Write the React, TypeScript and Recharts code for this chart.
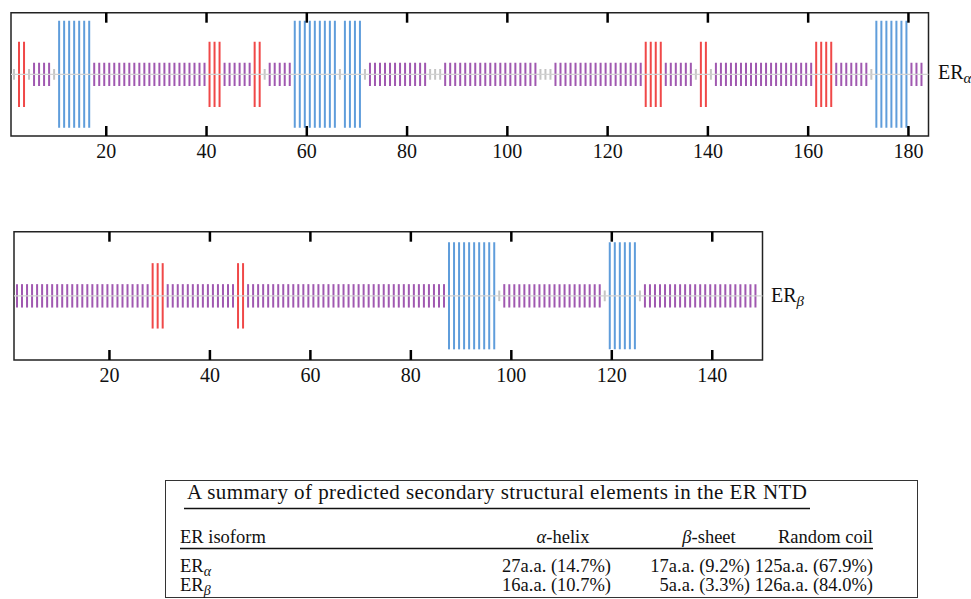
import React from 'react';
import { ComposedChart, Bar, Cell, XAxis, YAxis, ReferenceLine, ReferenceArea } from 'recharts';

// Secondary-structure codes: H = α-helix, E = β-sheet, C = random coil, T = other
type Code = 'H' | 'E' | 'C' | 'T';

// Run-length sequences read residue by residue from the picture
const ER_ALPHA_RUNS: [Code, number][] = [
  ['T', 1], ['E', 2], ['T', 1], ['C', 4], ['T', 1], ['H', 7], ['C', 23], ['E', 3], ['C', 6],
  ['E', 2], ['T', 1], ['C', 5], ['H', 9], ['T', 1], ['H', 4], ['T', 1], ['C', 12], ['T', 3],
  ['C', 19], ['T', 3], ['C', 18], ['E', 4], ['C', 6], ['T', 1], ['E', 2], ['T', 1], ['C', 20],
  ['E', 4], ['C', 7], ['T', 1], ['H', 7], ['C', 3],
];
const ER_BETA_RUNS: [Code, number][] = [
  ['C', 27], ['E', 3], ['C', 14], ['E', 2], ['C', 40], ['H', 10], ['T', 1], ['C', 20],
  ['T', 1], ['H', 6], ['T', 1], ['C', 23],
];

const ER_ALPHA_LENGTH = 184;
const ER_BETA_LENGTH = 150;
const ER_ALPHA_TICKS = [20, 40, 60, 80, 100, 120, 140, 160, 180];
const ER_BETA_TICKS = [20, 40, 60, 80, 100, 120, 140];

// Table
const TABLE_TITLE = 'A summary of predicted secondary structural elements in the ER NTD';
const TABLE_ISOFORMS = ['α', 'β'];
const TABLE_HELIX = ['27a.a. (14.7%)', '16a.a. (10.7%)'];
const TABLE_SHEET = ['17a.a. (9.2%)', '5a.a. (3.3%)'];
const TABLE_COIL = ['125a.a. (67.9%)', '126a.a. (84.0%)'];

// Styles
const TYPE_STYLE: Record<Code, { color: string; half: number }> = {
  H: { color: '#5f9ddb', half: 53.5 },
  E: { color: '#f04848', half: 32.7 },
  C: { color: '#a058b0', half: 11.7 },
  T: { color: '#c4c4c4', half: 5.3 },
};
const TICK_LEN = 10;

const FONT = '"Liberation Serif", "DejaVu Serif", serif';

function expand(runs: [Code, number][]) {
  const out: { pos: number; range: [number, number]; code: Code }[] = [];
  let residue = 1;
  runs.forEach(([code, n]) => {
    for (let k = 0; k < n; k++) {
      const h = TYPE_STYLE[code].half;
      out.push({ pos: residue + 0.5, range: [-h, h], code });
      residue++;
    }
  });
  return out;
}

const alphaData = expand(ER_ALPHA_RUNS);
const betaData = expand(ER_BETA_RUNS);

interface PanelProps {
  data: { pos: number; range: [number, number]; code: Code }[];
  length: number;
  ticks: number[];
  width: number;
  height: number;
  margin: { top: number; right: number; bottom: number; left: number };
  yHalf: number;
}

function Panel({ data, length, ticks, width, height, margin, yHalf }: PanelProps) {
  return (
    <ComposedChart width={width} height={height} data={data} margin={margin}>
      <XAxis
        xAxisId="b"
        dataKey="pos"
        type="number"
        domain={[1, length]}
        ticks={ticks}
        interval={0}
        allowDataOverflow
        axisLine={false}
        tickLine={false}
        tickSize={0}
        tickMargin={8}
        height={30}
        tick={{ fill: '#111', fontSize: 20, fontFamily: FONT }}
      />
      <YAxis type="number" domain={[-yHalf, yHalf]} hide allowDataOverflow />
      <Bar xAxisId="b" dataKey="range" barSize={2} isAnimationActive={false}>
        {data.map((d, i) => (
          <Cell key={i} fill={TYPE_STYLE[d.code].color} />
        ))}
      </Bar>
      <ReferenceLine xAxisId="b" y={0} stroke="#d2d2d2" strokeWidth={1.4} />
      {ticks.map((t) => (
        <ReferenceLine
          key={`b${t}`}
          xAxisId="b"
          segment={[{ x: t, y: -yHalf }, { x: t, y: -yHalf + TICK_LEN }]}
          stroke="#000"
          strokeWidth={2.5}
        />
      ))}
      {ticks.map((t) => (
        <ReferenceLine
          key={`t${t}`}
          xAxisId="b"
          segment={[{ x: t, y: yHalf }, { x: t, y: yHalf - TICK_LEN }]}
          stroke="#000"
          strokeWidth={2.5}
        />
      ))}
      <ReferenceArea
        xAxisId="b"
        x1={1}
        x2={length}
        y1={-yHalf}
        y2={yHalf}
        fill="none"
        fillOpacity={0}
        stroke="#222"
        strokeWidth={1.5}
      />
    </ComposedChart>
  );
}

function ErLabel({ sub, left, top }: { sub: string; left: number; top: number }) {
  return (
    <div style={{ position: 'absolute', left, top, fontFamily: FONT, fontSize: 20, lineHeight: '20px', color: '#111' }}>
      ER<sub style={{ fontStyle: 'italic', fontSize: 15, verticalAlign: '-4px', lineHeight: 0 }}>{sub}</sub>
    </div>
  );
}

function SummaryTable() {
  const fs = 18.5;
  const rowY = [572, 591];
  return (
    <svg
      width={971}
      height={130}
      style={{ position: 'absolute', left: 0, top: 470 }}
      fontFamily={FONT}
      fontSize={fs}
      fill="#111"
    >
      <g transform="translate(0,-470)">
        <rect x={165.5} y={480.5} width={752} height={117} fill="none" stroke="#333" strokeWidth={1} />
        <text x={187} y={499} fontSize={21} textLength={620} lengthAdjust="spacing">{TABLE_TITLE}</text>
        <line x1={184} x2={810} y1={508.5} y2={508.5} stroke="#111" strokeWidth={1.3} />
        <text x={180} y={543}>ER isoform</text>
        <text x={563} y={543} textAnchor="middle">
          <tspan fontStyle="italic">α</tspan>-helix
        </text>
        <text x={709} y={543} textAnchor="middle">
          <tspan fontStyle="italic">β</tspan>-sheet
        </text>
        <text x={873} y={543} textAnchor="end">Random coil</text>
        <line x1={180} x2={873} y1={548.5} y2={548.5} stroke="#111" strokeWidth={1.3} />
        {TABLE_ISOFORMS.map((iso, i) => (
          <g key={iso}>
            <text x={180} y={rowY[i]}>
              ER<tspan fontStyle="italic" fontSize={14} dy={4}>{iso}</tspan>
            </text>
            <text x={611} y={rowY[i]} textAnchor="end">{TABLE_HELIX[i]}</text>
            <text x={750} y={rowY[i]} textAnchor="end">{TABLE_SHEET[i]}</text>
            <text x={873} y={rowY[i]} textAnchor="end">{TABLE_COIL[i]}</text>
          </g>
        ))}
      </g>
    </svg>
  );
}

export default function App() {
  return (
    <div style={{ position: 'absolute', left: 0, top: 0, width: 971, height: 599, background: '#fff', overflow: 'hidden' }}>
      <div style={{ position: 'absolute', left: 0, top: 0 }}>
        <Panel
          data={alphaData}
          length={ER_ALPHA_LENGTH}
          ticks={ER_ALPHA_TICKS}
          width={971}
          height={175}
          margin={{ top: 12.7, right: 42.5, bottom: 9, left: 11 }}
          yHalf={61.65}
        />
      </div>
      <div style={{ position: 'absolute', left: 0, top: 200 }}>
        <Panel
          data={betaData}
          length={ER_BETA_LENGTH}
          ticks={ER_BETA_TICKS}
          width={971}
          height={200}
          margin={{ top: 31.7, right: 208.5, bottom: 10, left: 14 }}
          yHalf={64.15}
        />
      </div>
      <ErLabel sub="α" left={938} top={62} />
      <ErLabel sub="β" left={771} top={285} />
      <SummaryTable />
    </div>
  );
}
